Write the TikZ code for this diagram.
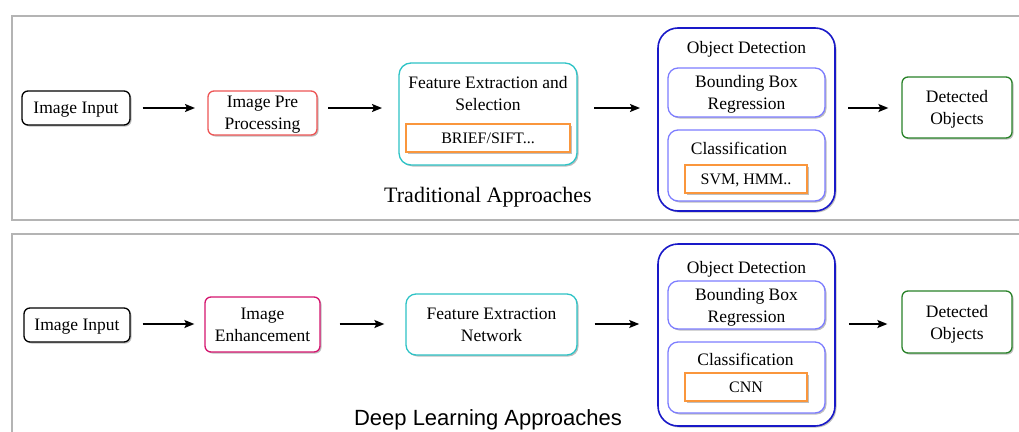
\documentclass[tikz,border=0pt]{standalone}
\usepackage{fontspec}
\setmainfont{Liberation Serif}
\newfontfamily\sansf{Liberation Sans}
\usetikzlibrary{arrows.meta,shadows}
\definecolor{panelgray}{RGB}{180,180,180}
\definecolor{cred}{RGB}{238,85,85}
\definecolor{cmag}{RGB}{212,20,110}
\definecolor{ccyan}{RGB}{45,195,198}
\definecolor{cdblue}{RGB}{25,25,200}
\definecolor{clblue}{RGB}{125,125,255}
\definecolor{corange}{RGB}{250,150,60}
\definecolor{cgreen}{RGB}{40,130,40}
\tikzset{
  sh/.style={drop shadow={shadow xshift=1.5pt,shadow yshift=-1.5pt,opacity=0.25,fill=black}},
  box/.style={draw=#1,line width=1.3pt,rounded corners=6pt,fill=white,sh,align=center,inner sep=0pt,
    text depth=0pt,font=\fontsize{17.5}{22}\selectfont},
  small/.style={draw=corange,line width=1.3pt,fill=white,sh,align=center,inner sep=0pt,
    text depth=0pt,font=\fontsize{16}{20}\selectfont},
  odbox/.style={draw=cdblue,line width=1.6pt,rounded corners=20pt,fill=white,sh,inner sep=0pt},
  sub/.style={draw=clblue,line width=1.3pt,rounded corners=10pt,fill=white,sh,align=center,inner sep=0pt,
    text depth=0pt,font=\fontsize{17.5}{22}\selectfont},
  lbl/.style={inner sep=0pt,align=center,text depth=0pt,font=\fontsize{17.5}{22}\selectfont},
  arr/.style={line width=1.5pt,-{Stealth[length=10pt,width=8pt,inset=2pt]}},
  panel/.style={draw=panelgray,line width=2pt}
}
\begin{document}
\begin{tikzpicture}[x=1pt,y=-1pt]
\clip (0,0) rectangle (1019,431);
\fill[white] (0,0) rectangle (1019,431);
% panels
\draw[panel] (12,16) rectangle (1040,220);
\draw[panel] (12,234) rectangle (1040,450);

% ---------- top row ----------
\node[box=black,minimum width=108pt,minimum height=34pt] (in1) at (76,108) {Image Input};
\node[box=cred,minimum width=109pt,minimum height=44pt] (pre) at (262.5,113) {Image Pre\\Processing};
\node[box=ccyan,rounded corners=12pt,minimum width=178pt,minimum height=102pt] (fe) at (488,114) {};
\node[lbl] (fet) at (488,93) {Feature Extraction and\\Selection};
\node[small,minimum width=164pt,minimum height=28pt] (brief) at (488,138) {BRIEF/SIFT...};
\node[odbox,minimum width=177pt,minimum height=183pt] (od) at (746.5,119.5) {};
\node[lbl] (odt) at (746.5,47) {Object Detection};
\node[sub,minimum width=157pt,minimum height=49pt] (bb) at (746.5,92.5) {Bounding Box\\Regression};
\node[sub,minimum width=157pt,minimum height=71pt] (cls) at (746.5,165.5) {};
\node[lbl] (clst) at (739,148) {Classification};
\node[small,minimum width=122pt,minimum height=28pt] (svm) at (746,179) {SVM, HMM..};
\node[box=cgreen,minimum width=110pt,minimum height=61pt] (det) at (957,107.5) {Detected\\Objects};
\node[inner sep=0pt,text depth=0pt,font=\fontsize{22}{26}\selectfont] (trad) at (488,195) {Traditional Approaches};

\coordinate (a1) at (195,108);
\draw[arr] ([xshift=12pt]in1.east) -- (a1);
\coordinate (a2s) at (328,108);
\coordinate (a2) at (382,108);
\draw[arr] (a2s) -- (a2);
\coordinate (a3s) at (594,108);
\coordinate (a3) at (640,108);
\draw[arr] (a3s) -- (a3);
\coordinate (a4s) at (848,108);
\draw[arr] (a4s) -- ([xshift=-13pt]det.west |- a4s);

% ---------- bottom row ----------
\node[box=black,minimum width=106pt,minimum height=34pt] (in2) at (77,325) {Image Input};
\node[box=cmag,minimum width=115pt,minimum height=55pt] (enh) at (262.5,324.5) {Image\\Enhancement};
\node[box=ccyan,rounded corners=10pt,minimum width=171pt,minimum height=61pt] (fen) at (491.5,324.5) {Feature Extraction\\Network};
\node[odbox,minimum width=177pt,minimum height=182pt] (od2) at (746.5,335) {};
\node[lbl] (od2t) at (746.5,267) {Object Detection};
\node[sub,minimum width=157pt,minimum height=48pt] (bb2) at (746.5,305) {Bounding Box\\Regression};
\node[sub,minimum width=157pt,minimum height=71pt] (cls2) at (746.5,377.5) {};
\node[lbl] (cls2t) at (745.5,359) {Classification};
\node[small,minimum width=122pt,minimum height=28pt] (cnn) at (746,387) {CNN};
\node[box=cgreen,minimum width=110pt,minimum height=62pt] (det2) at (957,322) {Detected\\Objects};
\node[inner sep=0pt,text depth=0pt,font=\sansf\fontsize{22}{26}\selectfont] (deep) at (488,418) {Deep Learning Approaches};

\draw[arr] ([xshift=12pt]in2.east |- 0,324) -- ([xshift=-10pt]enh.west |- 0,324);
\draw[arr] ([xshift=19pt]enh.east |- 0,324) -- ([xshift=-21pt]fen.west |- 0,324);
\draw[arr] ([xshift=17pt]fen.east |- 0,324) -- ([xshift=-18pt]od2.west |- 0,324);
\draw[arr] ([xshift=13pt]od2.east |- 0,324) -- ([xshift=-14pt]det2.west |- 0,324);
\end{tikzpicture}
\end{document}
